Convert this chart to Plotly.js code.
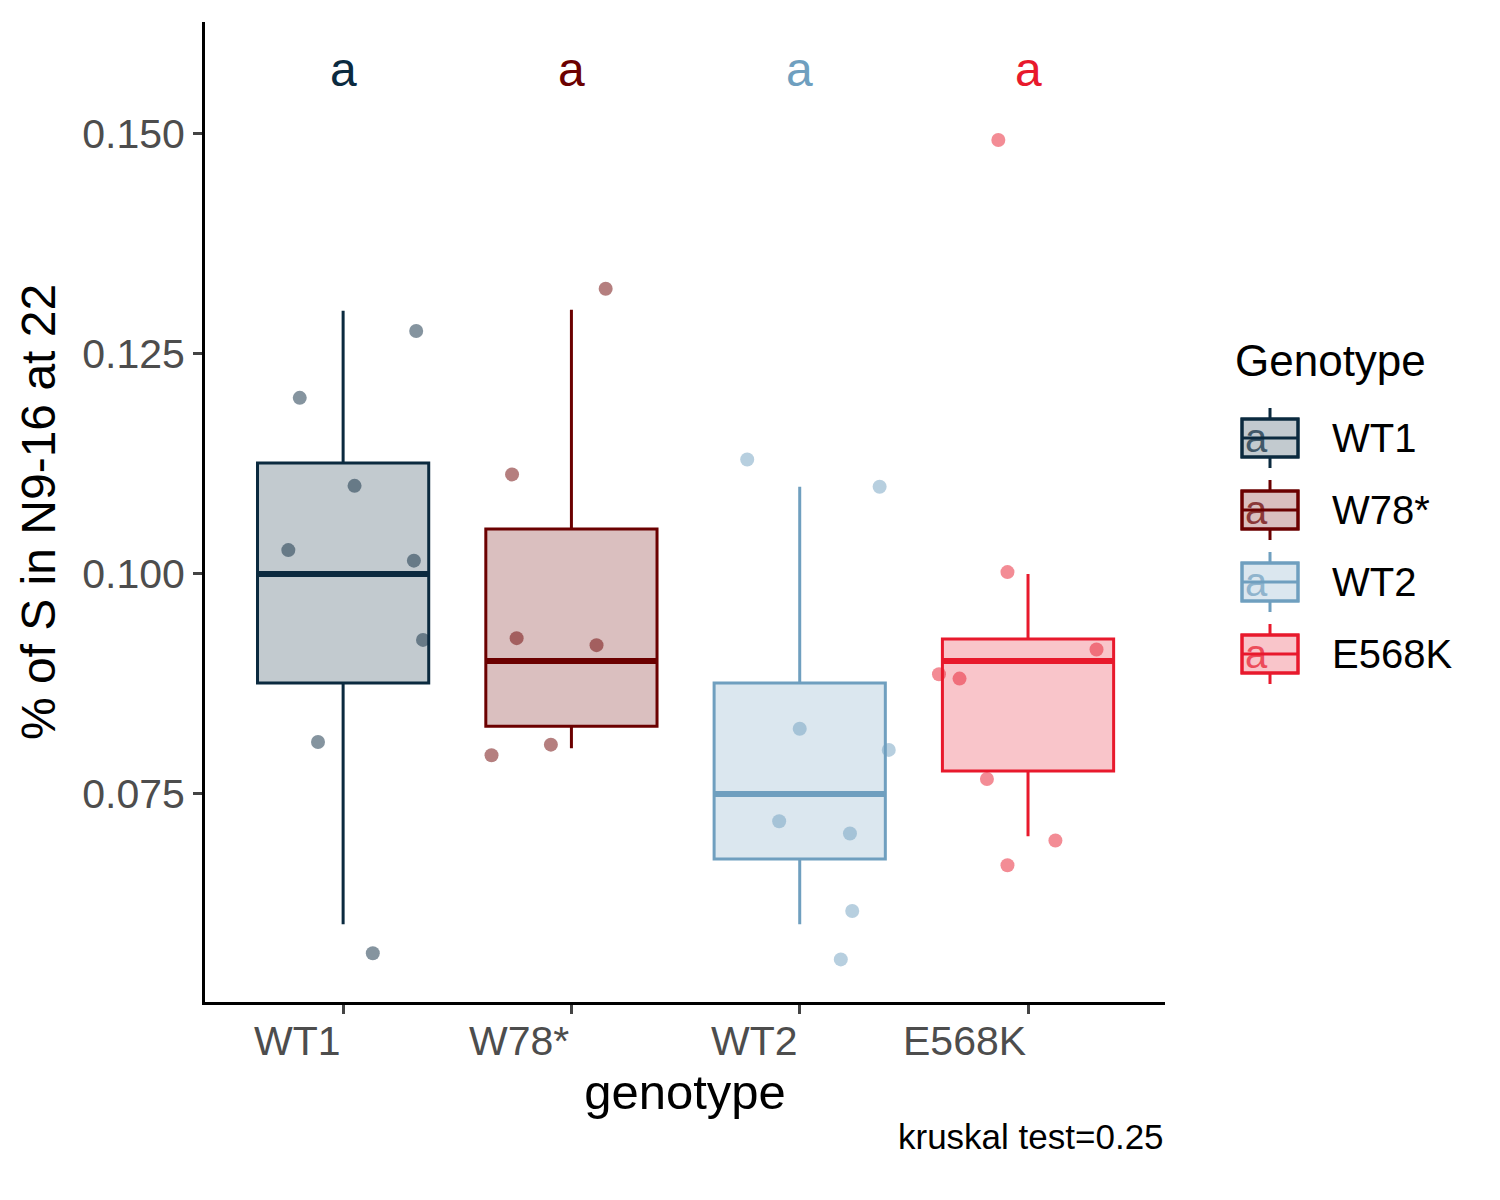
<!DOCTYPE html>
<html><head><script src="https://cdn.plot.ly/plotly-3.0.1.min.js"></script>
<style>body{margin:0}</style></head><body>
<div id="c" style="width:1500px;height:1200px"></div>
<script>
const categories = ["WT1","W78*","WT2","E568K"];
const colors = ["#0b2a3f","#6b0000","#6f9fbf","#e8192c"];
const fills = ["rgba(11,42,63,0.25)","rgba(107,0,0,0.25)","rgba(111,159,191,0.25)","rgba(232,25,44,0.25)"];
const q1 = [0.0876,0.0827,0.0676,0.0776];
const median = [0.100,0.0901,0.075,0.0901];
const q3 = [0.1126,0.1051,0.0876,0.0926];
const lowerWhisker = [0.0602,0.0802,0.0602,0.0702];
const upperWhisker = [0.1299,0.130,0.1099,0.100];
const pointsY = [
 [0.1200,0.1100,0.1027,0.1276,0.1015,0.0925,0.0809,0.0569],
 [0.1113,0.1324,0.0927,0.0919,0.0794,0.0806],
 [0.1130,0.1099,0.0824,0.0800,0.0719,0.0705,0.0617,0.0562],
 [0.1493,0.1002,0.0914,0.0886,0.0881,0.0767,0.0669,0.0697]
];
const pointsJitter = [
 [-0.19,0.05,-0.24,0.32,0.31,0.35,-0.11,0.13],
 [-0.26,0.15,-0.24,0.11,-0.35,-0.09],
 [-0.23,0.35,0,0.39,-0.09,0.22,0.23,0.18],
 [-0.13,-0.09,0.30,-0.39,-0.30,-0.18,-0.09,0.12]
];
const letters = ["a","a","a","a"];
const letterY = 0.1573;
const F = "Liberation Sans, Arial";

const traces = [];
categories.forEach((c,i)=>{
  traces.push({type:"box", x:[i], q1:[q1[i]], median:[median[i]], q3:[q3[i]],
    lowerfence:[lowerWhisker[i]], upperfence:[upperWhisker[i]], width:0.75, whiskerwidth:0,
    line:{color:colors[i],width:3}, fillcolor:fills[i], boxpoints:false, hoverinfo:"skip", showlegend:false});
  traces.push({type:"scatter", mode:"lines", x:[i-0.375,i+0.375], y:[median[i],median[i]],
    line:{color:colors[i],width:6}, showlegend:false});
});
categories.forEach((c,i)=>{
  traces.push({type:"scatter", mode:"markers", x:pointsJitter[i].map(j=>i+j), y:pointsY[i],
    marker:{color:colors[i],size:14,opacity:0.5}, showlegend:false});
});

const px = v=>(v-205)/960, py = v=>(1002-v)/980;
const ann = [], shapes = [];
categories.forEach((c,i)=>{
  ann.push({x:i, y:letterY, xref:"x", yref:"y", text:letters[i], showarrow:false,
    font:{size:48,color:colors[i],family:F}});
  ann.push({x:i, y:0.05136, xref:"x", yref:"y", yshift:-14, text:c, showarrow:false, xanchor:"right", yanchor:"top",
    font:{size:41,color:"#4d4d4d",family:F}});
  const cy = 438 + 72*i;
  shapes.push({type:"line", xref:"paper", yref:"paper", x0:px(1270), x1:px(1270), y0:py(cy-30), y1:py(cy+30), line:{color:colors[i],width:3}});
  shapes.push({type:"rect", xref:"paper", yref:"paper", x0:px(1242), x1:px(1298), y0:py(cy-19), y1:py(cy+19), line:{color:colors[i],width:3}, fillcolor:"white"});
  shapes.push({type:"rect", xref:"paper", yref:"paper", x0:px(1242), x1:px(1298), y0:py(cy-19), y1:py(cy+19), line:{color:colors[i],width:3}, fillcolor:fills[i]});
  shapes.push({type:"line", xref:"paper", yref:"paper", x0:px(1242), x1:px(1298), y0:py(cy), y1:py(cy), line:{color:colors[i],width:3}});
  ann.push({x:px(1270), y:py(cy), xref:"paper", yref:"paper", text:"a", showarrow:false, font:{size:40,color:colors[i],family:F}, opacity:0.7});
  ann.push({x:px(1330), y:py(cy), xref:"paper", yref:"paper", text:c, showarrow:false, xanchor:"left", font:{size:40,color:"#000",family:F}});
});
ann.push({x:px(1233), y:py(360), xref:"paper", yref:"paper", text:"Genotype", showarrow:false, xanchor:"left", font:{size:44,color:"#000",family:F}});
ann.push({x:px(1166), y:py(1158), xref:"paper", yref:"paper", text:"kruskal test=0.25", showarrow:false, xanchor:"right", font:{size:35,color:"#000",family:F}});

Plotly.newPlot("c", traces, {
  width:1500, height:1200, margin:{l:205,r:335,t:22,b:198},
  paper_bgcolor:"white", plot_bgcolor:"white", showlegend:false,
  font:{family:F},
  xaxis:{range:[-0.605,3.6], tickvals:[0,1,2,3], showticklabels:false, ticks:"outside", ticklen:9, tickwidth:3,
    showline:true, linecolor:"#000", linewidth:3, showgrid:false, zeroline:false,
    title:{text:"genotype", font:{size:49,color:"#000"}, standoff:62}},
  yaxis:{range:[0.05136,0.1627], tickvals:[0.075,0.100,0.125,0.150], ticktext:["0.075","0.100","0.125","0.150"],
    ticks:"outside", ticklen:9, tickwidth:3, tickfont:{size:41,color:"#4d4d4d"},
    showline:true, linecolor:"#000", linewidth:3, showgrid:false, zeroline:false,
    title:{text:"% of S in N9-16 at 22", font:{size:48,color:"#000"}, standoff:12}},
  annotations:ann, shapes:shapes
}, {staticPlot:true});
</script></body></html>
